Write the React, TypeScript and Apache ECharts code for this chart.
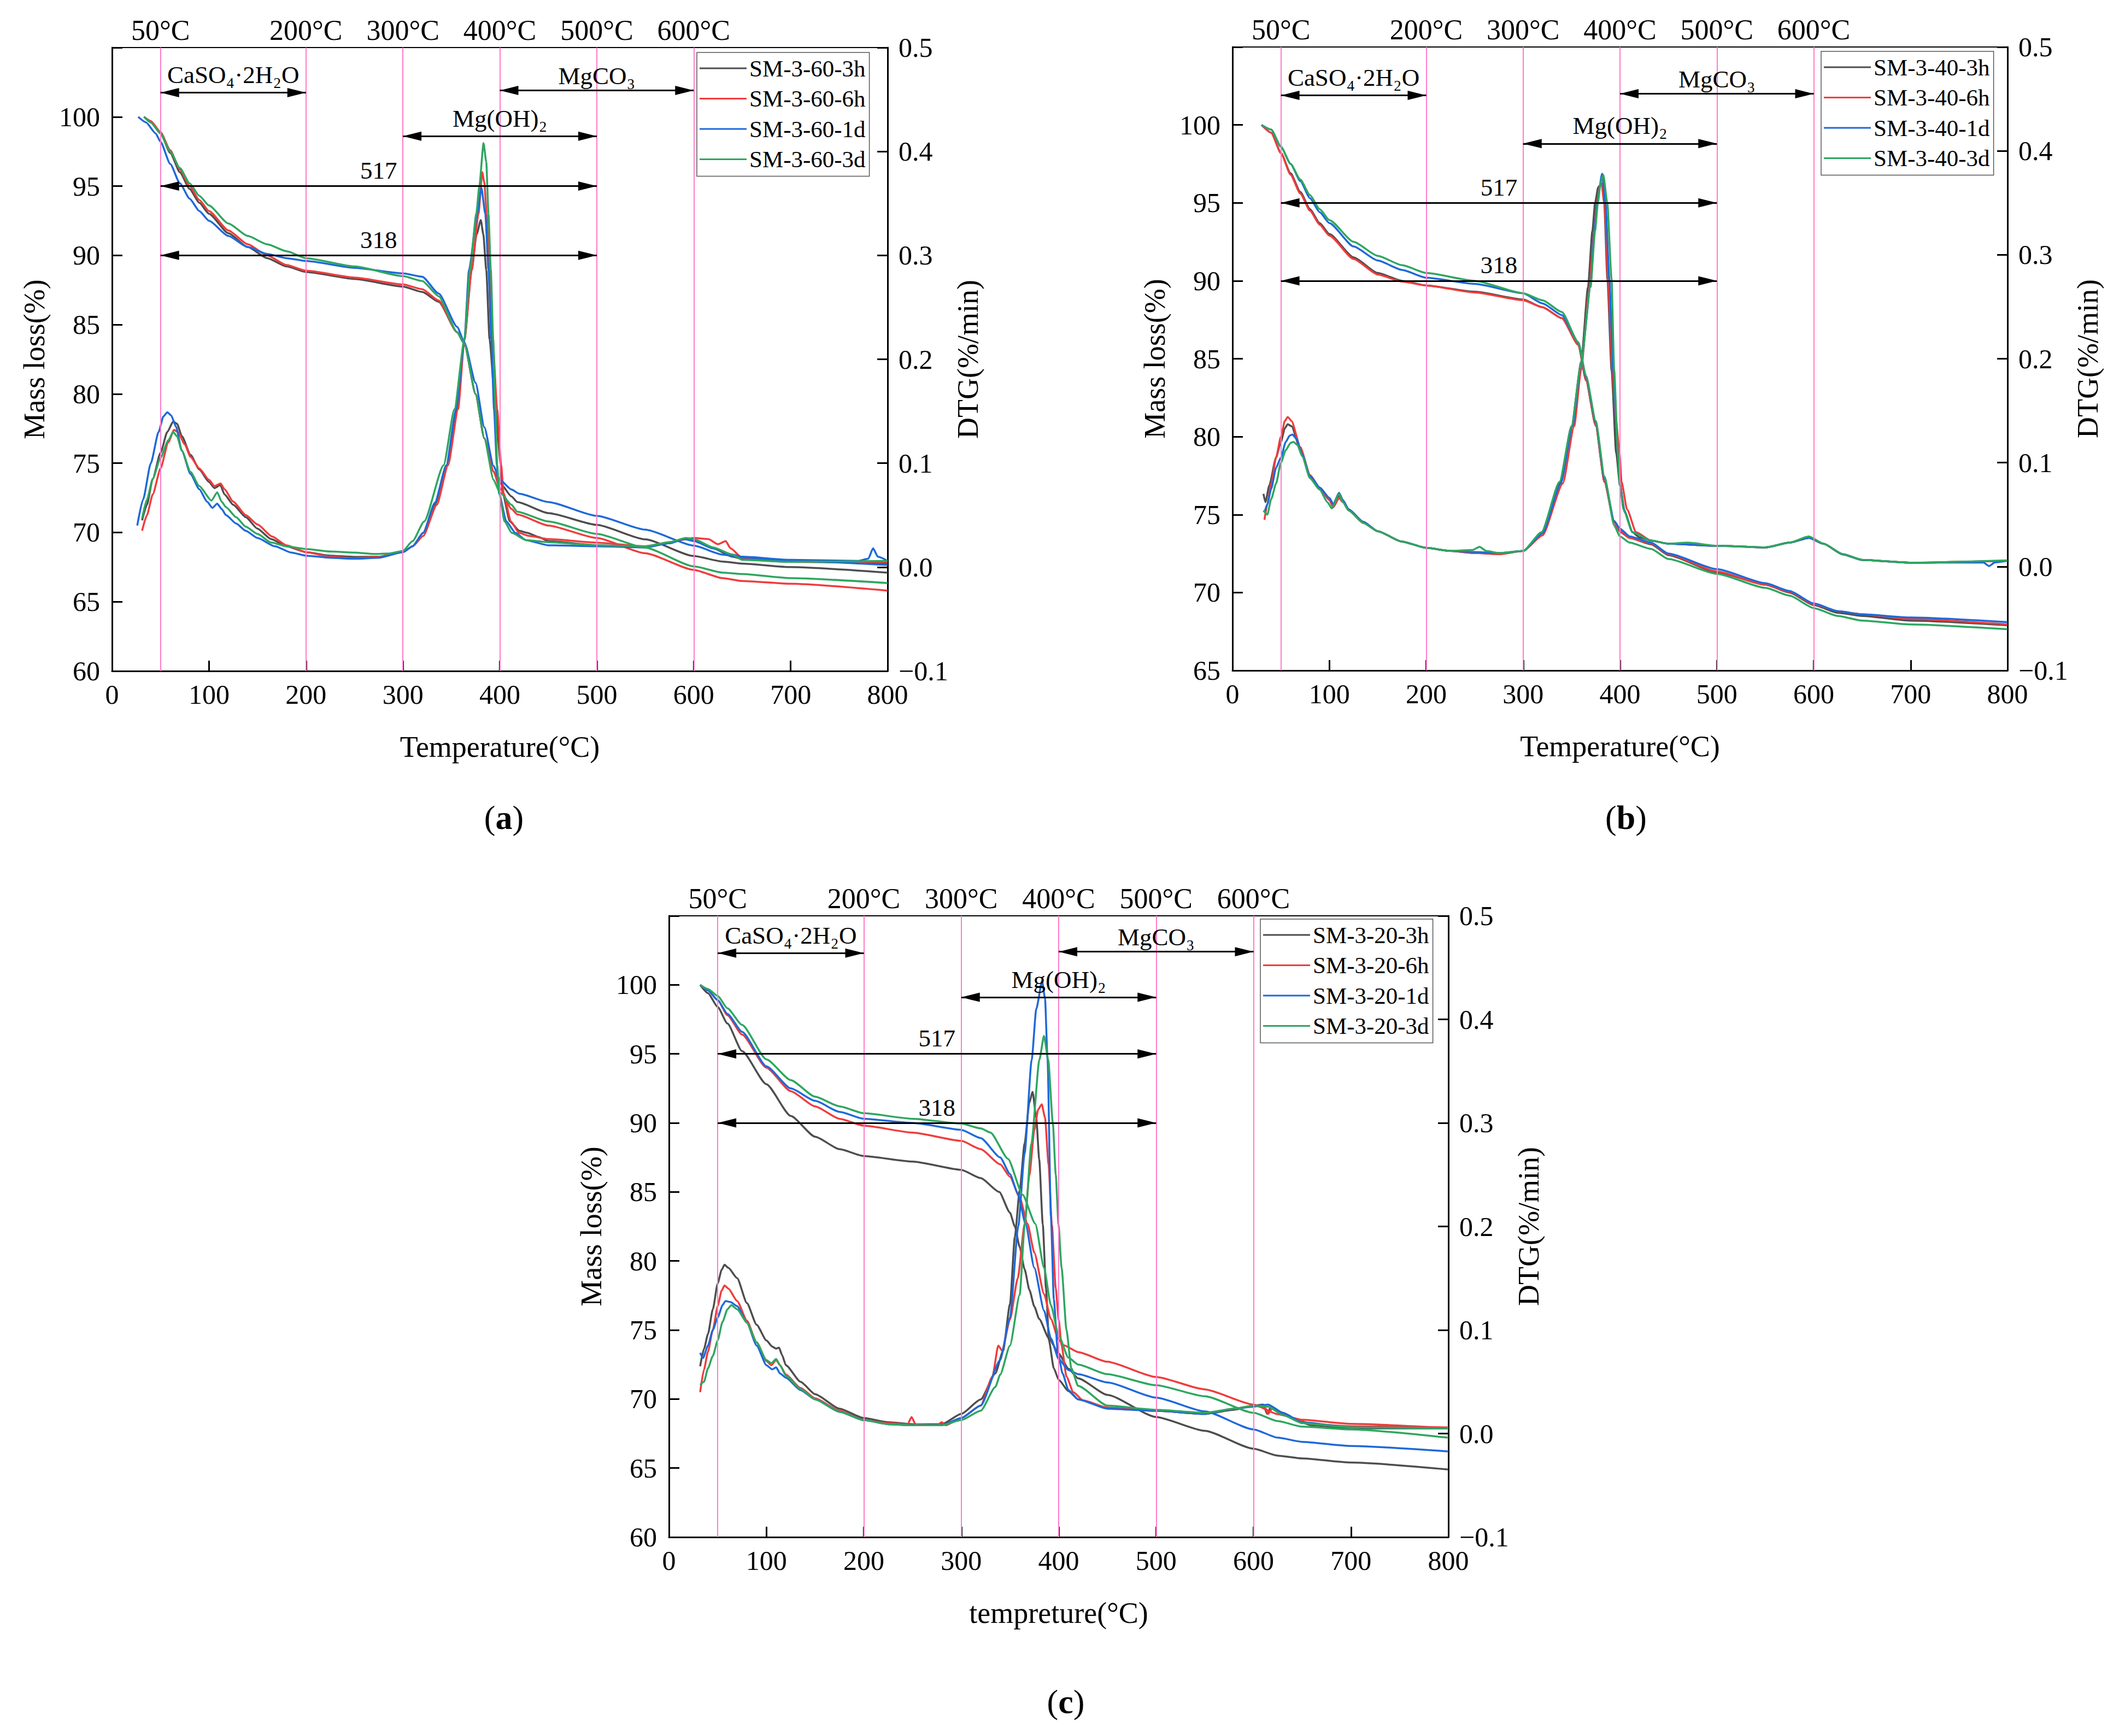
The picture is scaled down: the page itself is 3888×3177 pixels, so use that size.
import { useEffect, useRef } from 'react';
import * as echarts from 'echarts';

const FONT = "'Liberation Serif', 'Times New Roman', Times, serif";
const COLORS = ['#4d4d4d', '#f03c3c', '#1e69d9', '#2ea660'];

const namesA = ['SM-3-60-3h', 'SM-3-60-6h', 'SM-3-60-1d', 'SM-3-60-3d'];
const namesB = ['SM-3-40-3h', 'SM-3-40-6h', 'SM-3-40-1d', 'SM-3-40-3d'];
const namesC = ['SM-3-20-3h', 'SM-3-20-6h', 'SM-3-20-1d', 'SM-3-20-3d'];

// boundary temperatures marked by pink lines
const boundaryTemps = [50, 200, 300, 400, 500, 600];

// ---------- panel (a): SM-3-60 ----------
const tgA3h = [[33,100],[40,99.6],[50,98.8],[60,97.4],[70,96.0],[80,94.8],[90,93.8],[100,93.0],[120,91.6],[140,90.6],[160,89.8],[180,89.2],[200,88.8],[250,88.3],[300,87.75],[320,87.36],[337,86.65],[356,84.45],[363.5,83.6],[375,80.0],[384,76.8],[393.5,74.4],[400,73.6],[412,72.6],[418,72.2],[450,71.4],[500,70.55],[550,69.5],[600,68.3],[630,67.9],[650,67.75],[700,67.5],[800,67.1]];
const tgA6h = [[33,100],[40,99.7],[50,98.9],[60,97.6],[70,96.2],[80,95.0],[90,94.0],[100,93.2],[120,91.8],[140,90.8],[160,90.0],[180,89.3],[200,88.9],[250,88.4],[300,87.9],[320,87.56],[337,86.74],[356,84.45],[363.5,83.6],[375,80.0],[384,76.8],[393.5,74.4],[400,73.2],[412,71.7],[418,71.3],[450,70.5],[500,69.6],[550,68.5],[600,67.3],[630,66.7],[650,66.5],[700,66.3],[800,65.8]];
const tgA1d = [[27,100],[35,99.6],[45,98.8],[50,98.2],[60,96.6],[70,95.2],[80,94.1],[90,93.2],[100,92.5],[120,91.4],[140,90.6],[160,90.1],[180,89.8],[200,89.6],[250,89.1],[300,88.7],[320,88.46],[337,87.24],[356,84.84],[363.5,83.7],[375,80.8],[384,77.6],[393.5,74.8],[400,73.8],[412,73.1],[420,72.8],[450,72.2],[500,71.2],[550,70.2],[600,69.05],[630,68.4],[650,68.2],[700,67.95],[800,67.65]];
const tgA3d = [[33,100],[40,99.6],[50,98.8],[60,97.5],[70,96.3],[80,95.2],[90,94.3],[100,93.6],[120,92.3],[140,91.4],[160,90.8],[180,90.3],[200,89.8],[250,89.2],[300,88.5],[320,88.15],[337,87.05],[356,84.45],[363.5,83.6],[375,80.0],[384,76.8],[393.5,73.8],[400,72.9],[412,72.0],[418,71.5],[450,70.8],[500,69.9],[550,68.9],[600,67.55],[630,67.1],[650,67.0],[700,66.7],[800,66.35]];

const dtgA3h = [[31,0.045],[36,0.06],[42,0.085],[50,0.11],[57,0.13],[63,0.14],[67,0.138],[72,0.126],[81,0.108],[90,0.094],[100,0.082],[105.6,0.076],[111.7,0.079],[116,0.07],[125,0.06],[138,0.048],[150,0.037],[164,0.027],[180,0.02],[200,0.0144],[225,0.011],[250,0.0098],[275,0.01],[300,0.0144],[310,0.02],[321,0.033],[333,0.06],[345,0.098],[356,0.152],[363.5,0.219],[371,0.286],[376,0.32],[380.4,0.334],[383,0.32],[386,0.286],[389.4,0.219],[395.5,0.152],[401,0.098],[403,0.071],[410.3,0.044],[420,0.035],[428,0.033],[440,0.029],[450,0.025],[500,0.021],[550,0.019],[575,0.023],[590,0.027],[600,0.026],[620,0.018],[640,0.01],[650,0.008],[700,0.005],[800,0.004]];
const dtgA6h = [[31,0.035],[36,0.05],[42,0.07],[50,0.095],[58,0.12],[64,0.132],[68,0.13],[75,0.118],[81,0.106],[90,0.095],[100,0.084],[105.6,0.078],[112,0.0805],[116,0.075],[125,0.063],[138,0.05],[150,0.041],[165,0.0295],[180,0.021],[200,0.0144],[225,0.01],[250,0.0085],[275,0.01],[300,0.0144],[310,0.02],[321,0.03],[335,0.06],[346.6,0.098],[357,0.152],[363.5,0.219],[371,0.286],[378,0.34],[381.9,0.38],[384,0.37],[386.4,0.34],[389.4,0.286],[392.6,0.219],[397.3,0.152],[401.4,0.098],[403.9,0.071],[411.4,0.044],[419.8,0.033],[430,0.03],[450,0.027],[500,0.0235],[550,0.02],[575,0.024],[600,0.028],[615,0.027],[625,0.022],[633,0.025],[638,0.018],[650,0.009],[700,0.005],[800,0.005]];
const dtgA1d = [[26,0.04],[32,0.065],[40,0.1],[48,0.13],[53,0.145],[57,0.149],[61,0.146],[66,0.135],[72,0.112],[81,0.0895],[90,0.075],[98,0.063],[103.5,0.057],[108.5,0.061],[113,0.056],[117.6,0.05],[128,0.042],[137.8,0.035],[150,0.028],[168,0.02],[185,0.014],[200,0.011],[225,0.009],[250,0.008],[275,0.009],[300,0.0144],[310,0.02],[321,0.033],[333,0.062],[344.8,0.098],[355,0.152],[363.5,0.219],[368.2,0.286],[376.7,0.34],[381,0.365],[385,0.34],[388.3,0.286],[391.3,0.219],[394,0.152],[397,0.098],[399.2,0.071],[406.7,0.044],[416,0.033],[427,0.026],[450,0.021],[500,0.02],[550,0.019],[575,0.023],[590,0.027],[600,0.025],[620,0.018],[640,0.012],[650,0.01],[700,0.007],[770,0.006],[780,0.008],[785,0.018],[790,0.01],[800,0.006]];
const dtgA3d = [[31,0.047],[36,0.065],[42,0.085],[50,0.105],[58,0.122],[63,0.13],[67,0.126],[72,0.112],[81,0.0915],[90,0.078],[102.5,0.064],[108.5,0.072],[113,0.063],[117.6,0.0576],[128,0.048],[137.8,0.039],[150,0.032],[164,0.0237],[180,0.02],[200,0.0174],[225,0.015],[250,0.014],[270,0.0126],[285,0.013],[300,0.0156],[310,0.025],[322,0.044],[342,0.098],[353.2,0.152],[363.5,0.219],[369.2,0.286],[375.7,0.34],[378.8,0.366],[383.2,0.408],[386,0.39],[388.3,0.34],[390.7,0.286],[393.2,0.219],[395.5,0.152],[397.3,0.098],[399.5,0.071],[404.8,0.044],[412.3,0.033],[427,0.026],[450,0.024],[500,0.021],[550,0.02],[575,0.024],[592,0.028],[600,0.027],[620,0.019],[640,0.012],[650,0.007],[700,0.005],[800,0.006]];

// ---------- panel (b): SM-3-40 ----------
const tgB3h = [[30,100],[40,99.5],[50,98.2],[60,96.9],[70,95.7],[80,94.6],[90,93.7],[100,93.0],[125,91.5],[150,90.5],[175,90.0],[200,89.7],[250,89.3],[300,88.8],[320,88.3],[340,87.6],[357,85.9],[365,83.6],[375,80.7],[384,77.1],[394,74.5],[400,73.9],[410,73.5],[432,73.1],[450,72.4],[500,71.3],[550,70.5],[575,70.0],[600,69.2],[625,68.7],[650,68.5],[700,68.2],[800,67.9]];
const tgB6h = [[30,100],[40,99.5],[50,98.2],[60,96.8],[70,95.6],[80,94.5],[90,93.6],[100,92.9],[125,91.4],[150,90.4],[175,89.95],[200,89.7],[250,89.25],[300,88.75],[320,88.3],[340,87.6],[357,85.9],[365,83.6],[375,80.7],[384,77.1],[394,74.5],[400,73.95],[410,73.5],[432,73.15],[450,72.45],[500,71.35],[550,70.5],[575,70.05],[600,69.25],[625,68.8],[650,68.6],[700,68.3],[800,67.95]];
const tgB1d = [[30,100],[40,99.7],[50,98.6],[60,97.5],[70,96.4],[80,95.3],[90,94.4],[100,93.7],[125,92.2],[150,91.3],[175,90.7],[200,90.2],[250,89.8],[300,89.2],[320,88.55],[340,87.8],[357,86.05],[365,83.8],[375,80.9],[384,77.3],[394,74.6],[400,74.1],[410,73.6],[432,73.2],[450,72.5],[500,71.5],[550,70.6],[575,70.1],[600,69.3],[625,68.8],[650,68.6],[700,68.4],[800,68.1]];
const tgB3d = [[30,100],[40,99.7],[50,98.6],[60,97.5],[70,96.5],[80,95.5],[90,94.6],[100,93.9],[125,92.5],[150,91.6],[175,91.0],[200,90.5],[250,90.0],[300,89.2],[320,88.75],[340,88.0],[357,86.05],[365,83.9],[375,81.0],[384,77.45],[394,74.3],[400,73.6],[410,73.2],[432,72.8],[450,72.15],[500,71.2],[550,70.3],[575,69.8],[600,69.0],[625,68.5],[650,68.2],[700,67.95],[800,67.65]];

const dtgB3h = [[32,0.07],[34,0.062],[38,0.078],[45,0.105],[50,0.12],[54,0.133],[57,0.137],[61,0.135],[70,0.113],[80,0.088],[90,0.076],[100,0.066],[104,0.06],[110,0.068],[114,0.063],[120,0.055],[135,0.043],[150,0.034],[175,0.024],[200,0.018],[225,0.015],[250,0.013],[275,0.012],[300,0.015],[320,0.033],[338,0.08],[350,0.135],[360,0.197],[367,0.269],[371.5,0.323],[374.3,0.35],[377.5,0.365],[381,0.369],[383.7,0.35],[387,0.277],[391.3,0.189],[396,0.11],[400,0.078],[405,0.052],[413,0.033],[420,0.028],[432,0.025],[450,0.022],[500,0.02],[550,0.0184],[575,0.023],[595,0.0277],[610,0.022],[630,0.0118],[650,0.0063],[700,0.0037],[800,0.0055]];
const dtgB6h = [[33,0.045],[36,0.06],[40,0.08],[45,0.105],[50,0.125],[54,0.14],[57,0.144],[61,0.14],[70,0.115],[80,0.088],[90,0.075],[100,0.064],[104,0.057],[110,0.066],[114,0.062],[120,0.054],[135,0.042],[150,0.034],[175,0.024],[200,0.018],[225,0.015],[250,0.013],[275,0.012],[300,0.015],[320,0.03],[341,0.08],[352.7,0.135],[360,0.19],[368,0.265],[373,0.32],[376,0.35],[379,0.365],[381,0.369],[384,0.35],[388,0.27],[392,0.19],[396,0.14],[399.7,0.108],[401.6,0.0815],[407.3,0.055],[416.7,0.033],[432,0.025],[450,0.022],[500,0.02],[550,0.0184],[575,0.023],[595,0.0277],[610,0.022],[630,0.0118],[650,0.0063],[700,0.0037],[800,0.0055]];
const dtgB1d = [[33,0.052],[36,0.06],[40,0.075],[45,0.095],[50,0.105],[55,0.12],[59,0.126],[62,0.127],[66,0.123],[72,0.108],[80,0.087],[90,0.076],[100,0.066],[104,0.06],[110,0.071],[114,0.064],[120,0.055],[135,0.043],[150,0.034],[175,0.024],[200,0.018],[225,0.015],[250,0.014],[275,0.013],[300,0.015],[320,0.032],[339,0.08],[351,0.135],[360,0.197],[369.6,0.269],[373.5,0.323],[376.5,0.35],[381.5,0.378],[385,0.35],[389,0.277],[393,0.189],[397.9,0.108],[400,0.08],[404,0.055],[413,0.033],[432,0.025],[450,0.022],[500,0.02],[550,0.0184],[575,0.023],[595,0.0277],[610,0.022],[630,0.0118],[650,0.0063],[700,0.0037],[775,0.004],[781,0.0005],[787,0.004],[800,0.0055]];
const dtgB3d = [[32,0.054],[36,0.05],[40,0.065],[45,0.08],[50,0.1],[55,0.112],[60,0.119],[63,0.12],[67,0.117],[72,0.106],[80,0.085],[90,0.074],[98,0.062],[102.5,0.056],[110,0.07],[114,0.062],[120,0.054],[135,0.042],[150,0.034],[175,0.024],[200,0.018],[225,0.015],[248,0.016],[255,0.019],[262,0.015],[275,0.013],[300,0.015],[319,0.033],[337.6,0.0815],[350,0.135],[360,0.197],[369.6,0.269],[374.3,0.323],[377.2,0.35],[380,0.37],[382.8,0.377],[386.9,0.35],[391.3,0.277],[394,0.189],[397.9,0.108],[399.7,0.0815],[403.5,0.055],[412.9,0.033],[432,0.025],[450,0.022],[470,0.023],[500,0.02],[550,0.0184],[575,0.023],[595,0.029],[610,0.022],[630,0.012],[650,0.0065],[700,0.0037],[800,0.006]];

// ---------- panel (c): SM-3-20 ----------
const tgC3h = [[32,100],[40,99.4],[50,98.4],[60,97.2],[75,95.2],[100,92.8],[125,90.5],[150,89.0],[175,88.1],[200,87.6],[250,87.2],[300,86.6],[320,86.0],[339,85.0],[350,83.5],[355,82.5],[360,81.0],[365,79.4],[370,77.9],[375,76.7],[380,75.8],[390,74.4],[400,73.3],[410,72.2],[420,71.5],[450,70.3],[500,68.7],[550,67.7],[600,66.4],[625,65.9],[650,65.7],[700,65.4],[800,64.9]];
const tgC6h = [[32,100],[40,99.6],[50,98.9],[60,97.8],[75,96.4],[100,94.0],[125,92.3],[150,91.2],[175,90.3],[200,89.8],[250,89.3],[300,88.7],[320,88.1],[340,87.0],[350,86.1],[360,84.6],[368,82.7],[375,80.6],[385,77.6],[392,75.8],[400,74.3],[405,73.9],[420,73.4],[450,72.7],[500,71.6],[550,70.7],[600,69.6],[625,68.9],[650,68.5],[700,68.2],[800,67.9]];
const tgC1d = [[32,100],[40,99.6],[50,98.9],[60,97.9],[75,96.6],[100,94.1],[125,92.5],[150,91.6],[175,90.8],[200,90.3],[250,90.0],[300,89.5],[320,88.9],[340,87.5],[350,86.3],[358,84.9],[366,82.7],[375,79.5],[385,76.4],[392,74.4],[400,72.9],[410,72.1],[420,71.8],[450,71.2],[500,70.1],[550,69.1],[600,67.8],[625,67.2],[650,66.9],[700,66.6],[800,66.2]];
const tgC3d = [[32,100],[40,99.7],[50,99.2],[60,98.3],[75,97.1],[100,94.6],[125,93.1],[150,91.9],[175,91.2],[200,90.7],[250,90.3],[300,89.95],[320,89.6],[330,89.3],[348,87.4],[363,84.8],[376,82.7],[385,79.5],[392,76.8],[400,74.6],[410,73.0],[420,72.5],[450,71.8],[500,71.0],[550,70.2],[600,69.0],[625,68.4],[650,68.0],[700,67.8],[800,67.2]];

const dtgC3h = [[32,0.065],[36,0.082],[40,0.096],[45,0.12],[50,0.145],[54,0.158],[57,0.163],[61,0.16],[70,0.15],[80,0.126],[90,0.105],[100,0.09],[106,0.084],[110,0.082],[113,0.083],[116,0.076],[120,0.066],[135,0.05],[150,0.038],[175,0.024],[200,0.015],[225,0.011],[250,0.009],[280,0.009],[300,0.019],[320,0.033],[335,0.058],[343,0.08],[350,0.125],[355,0.19],[360,0.235],[365,0.28],[370,0.32],[373.2,0.33],[377,0.305],[380,0.265],[383.7,0.202],[387,0.14],[390,0.09],[395,0.063],[400,0.052],[410,0.041],[420,0.033],[450,0.025],[500,0.022],[550,0.019],[580,0.023],[600,0.027],[610,0.028],[614,0.019],[618,0.026],[630,0.02],[645,0.012],[660,0.008],[700,0.005],[800,0.005]];
const dtgC6h = [[32,0.04],[36,0.062],[40,0.079],[45,0.1],[50,0.123],[54,0.138],[57,0.143],[61,0.14],[70,0.128],[80,0.109],[90,0.088],[100,0.07],[105,0.066],[110,0.071],[114,0.066],[120,0.057],[135,0.044],[150,0.034],[175,0.022],[200,0.013],[225,0.01],[245,0.009],[249,0.016],[253,0.009],[275,0.008],[280,0.011],[284,0.008],[300,0.015],[320,0.027],[332,0.055],[338,0.085],[342,0.08],[350,0.11],[358,0.15],[365,0.202],[370,0.25],[375,0.293],[379,0.313],[382.6,0.318],[386,0.305],[389.6,0.26],[393,0.202],[397,0.14],[400,0.11],[403,0.085],[408,0.055],[415,0.04],[425,0.032],[450,0.025],[500,0.022],[550,0.019],[580,0.024],[600,0.027],[612,0.025],[615,0.019],[619,0.024],[640,0.015],[660,0.009],[700,0.007],[800,0.006]];
const dtgC1d = [[32,0.078],[35,0.073],[40,0.085],[45,0.1],[50,0.112],[55,0.124],[58,0.128],[63,0.127],[70,0.123],[80,0.107],[90,0.085],[100,0.066],[106,0.062],[110,0.064],[114,0.058],[120,0.054],[135,0.042],[150,0.033],[175,0.021],[200,0.013],[225,0.009],[250,0.008],[280,0.008],[300,0.015],[320,0.027],[340,0.071],[350,0.112],[358.5,0.2],[365,0.27],[372.3,0.361],[377,0.41],[383,0.437],[386,0.42],[388.6,0.361],[392,0.21],[395,0.13],[399,0.08],[404,0.058],[410,0.042],[420,0.033],[450,0.024],[500,0.022],[550,0.019],[580,0.024],[600,0.026],[615,0.028],[630,0.02],[650,0.011],[700,0.006],[800,0.005]];
const dtgC3d = [[32,0.047],[36,0.05],[40,0.063],[45,0.075],[50,0.09],[55,0.108],[60,0.12],[64,0.124],[70,0.12],[80,0.107],[90,0.088],[100,0.071],[105,0.068],[110,0.072],[114,0.066],[120,0.056],[135,0.043],[150,0.033],[175,0.021],[200,0.013],[225,0.009],[250,0.008],[280,0.008],[300,0.013],[320,0.022],[335,0.045],[340,0.057],[350,0.085],[360,0.134],[365.2,0.202],[372,0.28],[380.2,0.361],[384.9,0.384],[389.3,0.361],[394,0.3],[397,0.25],[399.8,0.202],[403,0.16],[408,0.1],[413,0.063],[420,0.046],[450,0.027],[500,0.023],[550,0.02],[580,0.024],[600,0.027],[615,0.026],[630,0.018],[650,0.01],[700,0.006],[800,0.005]];

// double-headed arrows: temperature span and height on the mass-loss axis
const arrowsA = [
  { from: 50, to: 200, y: 101.75, text: 'CaSO₄·2H₂O' },
  { from: 400, to: 600, y: 101.9, text: 'MgCO₃' },
  { from: 300, to: 500, y: 98.6, text: 'Mg(OH)₂' },
  { from: 50, to: 500, y: 95, text: '517' },
  { from: 50, to: 500, y: 90, text: '318' },
];
const arrowsB = [
  { from: 50, to: 200, y: 101.9, text: 'CaSO₄·2H₂O' },
  { from: 400, to: 600, y: 102.0, text: 'MgCO₃' },
  { from: 300, to: 500, y: 98.8, text: 'Mg(OH)₂' },
  { from: 50, to: 500, y: 95, text: '517' },
  { from: 50, to: 500, y: 90, text: '318' },
];
const arrowsC = [
  { from: 50, to: 200, y: 102.3, text: 'CaSO₄·2H₂O' },
  { from: 400, to: 600, y: 102.4, text: 'MgCO₃' },
  { from: 300, to: 500, y: 99.1, text: 'Mg(OH)₂' },
  { from: 50, to: 500, y: 95, text: '517' },
  { from: 50, to: 500, y: 90, text: '318' },
];

const labelGap: Record<string, number> = {
  'CaSO₄·2H₂O': 10,
  'MgCO₃': 4,
  'Mg(OH)₂': 10,
  '517': 6,
  '318': 6,
};

const panels = [
  {
    key: 'a', names: namesA, yMin: 60, xName: 'Temperature(°C)', arrows: arrowsA,
    tg: [tgA3h, tgA6h, tgA1d, tgA3d], dtg: [dtgA3h, dtgA6h, dtgA1d, dtgA3d],
    grid: { left: 205, top: 87, width: 1419, height: 1141 },
    legend: { left: 1275, top: 96 }, caption: [922, 1496],
  },
  {
    key: 'b', names: namesB, yMin: 65, xName: 'Temperature(°C)', arrows: arrowsB,
    tg: [tgB3h, tgB6h, tgB1d, tgB3d], dtg: [dtgB3h, dtgB6h, dtgB1d, dtgB3d],
    grid: { left: 2255, top: 86, width: 1418, height: 1141 },
    legend: { left: 3332, top: 94 }, caption: [2975, 1496],
  },
  {
    key: 'c', names: namesC, yMin: 60, xName: 'tempreture(°C)', arrows: arrowsC,
    tg: [tgC3h, tgC6h, tgC1d, tgC3d], dtg: [dtgC3h, dtgC6h, dtgC1d, dtgC3d],
    grid: { left: 1224, top: 1676, width: 1426, height: 1137 },
    legend: { left: 2306, top: 1682 }, caption: [1950, 3114],
  },
];

const black = '#000';
const tickText = { fontFamily: FONT, fontSize: 50, color: black };
const nameText = { fontFamily: FONT, fontSize: 54, color: black };
const axisLine = { show: true, onZero: false, lineStyle: { color: black, width: 3 } };
const axisTick = { show: true, inside: true, length: 19, lineStyle: { color: black, width: 3 } };
const arrowHead = { symbol: 'triangle', symbolSize: [17, 34], symbolOffset: [0, 17] };

const App = () => {
  const chartRef = useRef<HTMLDivElement>(null);

  useEffect(() => {
    if (!chartRef.current) return;
    const chart = echarts.init(chartRef.current, undefined, { renderer: 'svg' });

    const grid: any[] = [];
    const xAxis: any[] = [];
    const yAxis: any[] = [];
    const series: any[] = [];
    const legend: any[] = [];

    panels.forEach((p, i) => {
      grid.push({ ...p.grid, show: true, borderColor: black, borderWidth: 2, backgroundColor: 'transparent' });

      xAxis.push({
        gridIndex: i, type: 'value', min: 0, max: 800, interval: 100,
        name: p.xName, nameLocation: 'middle', nameGap: 112, nameTextStyle: nameText,
        axisLine, axisTick, axisLabel: { ...tickText, margin: 18 }, splitLine: { show: false },
      });
      yAxis.push({
        gridIndex: i, type: 'value', position: 'left', min: p.yMin, max: 105, interval: 5,
        name: 'Mass loss(%)', nameLocation: 'middle', nameGap: 115, nameTextStyle: nameText,
        axisLine, axisTick, splitLine: { show: false },
        axisLabel: { ...tickText, margin: 22, formatter: (v: number) => (v > 100 ? '' : String(v)) },
      });
      yAxis.push({
        gridIndex: i, type: 'value', position: 'right', min: -0.1, max: 0.5, interval: 0.1,
        name: 'DTG(%/min)', nameLocation: 'middle', nameGap: 120, nameTextStyle: nameText,
        axisLine, axisTick, splitLine: { show: false },
        axisLabel: {
          ...tickText, margin: 20,
          formatter: (v: number) => (v < -1e-9 ? '−' : '') + Math.abs(v).toFixed(1),
        },
      });

      // pink boundary lines with their temperature labels on top
      series.push({
        type: 'line', name: `bounds-${p.key}`, xAxisIndex: i, yAxisIndex: 2 * i, data: [], z: 1, silent: true,
        markLine: {
          silent: true, symbol: ['none', 'none'],
          lineStyle: { color: '#ff7cc8', width: 2, type: 'solid' },
          label: { show: true, position: 'end', distance: 6, fontFamily: FONT, fontSize: 52, color: black },
          data: boundaryTemps.map((t) => ({ xAxis: t, label: { formatter: `${t}°C` } })),
        },
      });

      p.names.forEach((name, k) => {
        const common = {
          name, type: 'line', xAxisIndex: i, symbol: 'none', smooth: 0.2, smoothMonotone: 'x',
          color: COLORS[k], lineStyle: { color: COLORS[k], width: 3.5 }, z: 3,
        };
        series.push({ ...common, yAxisIndex: 2 * i, data: p.tg[k] });
        series.push({ ...common, yAxisIndex: 2 * i + 1, data: p.dtg[k] });
      });

      // double-headed arrows
      series.push({
        type: 'line', name: `arrows-${p.key}`, xAxisIndex: i, yAxisIndex: 2 * i, data: [], z: 6, silent: true,
        color: black,
        markLine: {
          silent: true,
          symbol: ['triangle', 'triangle'],
          itemStyle: { color: black },
          lineStyle: { color: black, width: 3, type: 'solid' },
          label: { show: true, position: 'insideMiddleTop', fontFamily: FONT, fontSize: 45, color: black },
          data: p.arrows.map((a) => [
            { coord: [a.from, a.y], ...arrowHead, label: { formatter: a.text, distance: labelGap[a.text] } },
            { coord: [a.to, a.y], ...arrowHead },
          ]),
        },
      });

      legend.push({
        data: p.names, orient: 'vertical', left: p.legend.left, top: p.legend.top,
        icon: 'rect', itemWidth: 86, itemHeight: 3, itemGap: 11.5,
        padding: [7, 7, 9, 5], borderColor: '#555', borderWidth: 1.5, selectedMode: false,
        textStyle: { fontFamily: FONT, fontSize: 43, color: black, lineHeight: 44 },
      });
    });

    const option = {
      animation: false,
      textStyle: { fontFamily: FONT },
      grid, xAxis, yAxis, series, legend,
      graphic: panels.map((p) => ({
        type: 'text', x: p.caption[0], y: p.caption[1], silent: true,
        style: {
          text: `{p|(}{b|${p.key}}{p|)}`, align: 'center', verticalAlign: 'middle',
          rich: {
            p: { fontFamily: FONT, fontSize: 62, fill: black },
            b: { fontFamily: FONT, fontSize: 62, fontWeight: 'bold', fill: black },
          },
        },
      })),
    };

    chart.setOption(option as any);
    return () => {
      chart.dispose();
    };
  }, []);

  return (
    <div
      ref={chartRef}
      style={{ position: 'absolute', left: 0, top: 0, width: 3888, height: 3177, background: '#fff' }}
    />
  );
};

export default App;
